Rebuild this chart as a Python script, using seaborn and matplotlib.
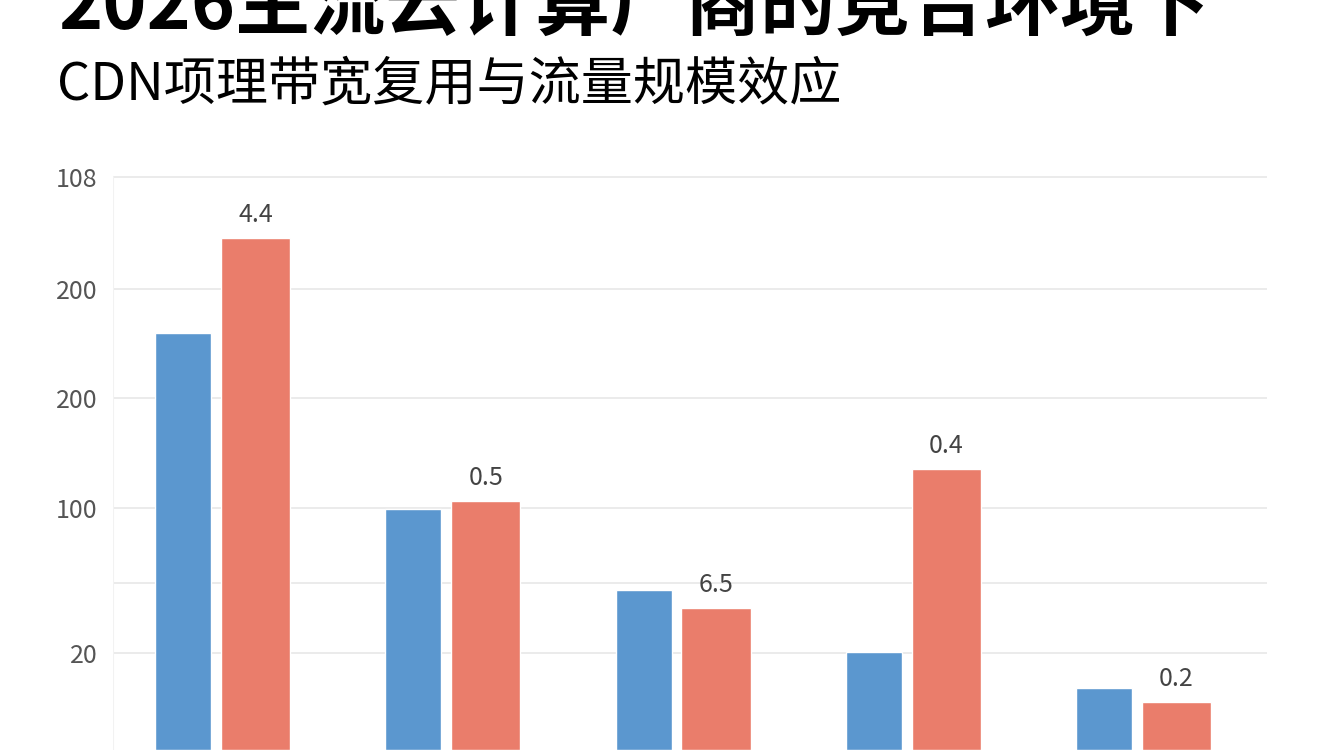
import matplotlib
matplotlib.use('Agg')
import matplotlib.pyplot as plt
import seaborn as sns
import pandas as pd

# Values (arbitrary units, 0 = bottom edge)
groups = ['G1', 'G2', 'G3', 'G4', 'G5']
series = ['基准', '复用']
blue_values = [417, 241, 160, 98, 62]
red_values = [512, 249, 142, 281, 48]
red_labels = ['4.4', '0.5', '6.5', '0.4', '0.2']

# Gridline positions and the tick text printed next to them
tick_values = [573, 461, 352, 242, 167, 97]
tick_labels = ['108', '200', '200', '100', '', '20']

title = '2026主流云计算厂商的竞合环境下'
subtitle = 'CDN项理带宽复用与流量规模效应'

df = pd.DataFrame({
    'group': groups * 2,
    'series': [series[0]] * len(groups) + [series[1]] * len(groups),
    'value': blue_values + red_values,
})

sns.set_theme(style='white')
plt.rcParams['font.family'] = ['Noto Sans CJK SC', 'DejaVu Sans']

fig = plt.figure(figsize=(13.44, 7.5), dpi=100)
ax = fig.add_axes([113 / 1344, 0, (1267 - 113) / 1344, 0.8])

sns.barplot(data=df, x='group', y='value', hue='series',
            palette=['#5B97CF', '#EA7D6B'], saturation=1, width=0.6, gap=0.05,
            legend=False, ax=ax, zorder=2)

# Red bars are a little wider than the blue ones in the reference
for i, bar in enumerate(ax.containers[0]):
    bar.set_x(i - 0.293)
    bar.set_width(0.243)
for i, bar in enumerate(ax.containers[1]):
    bar.set_x(i - 0.007)
    bar.set_width(0.300)

ax.bar_label(ax.containers[1], labels=red_labels, padding=7,
             fontsize=18, color='#444444')

ax.set_xlim(-0.476, 4.536)
ax.set_ylim(0, 600)
ax.set_yticks(tick_values)
ax.set_yticklabels(tick_labels, fontsize=18, color='#555555')
ax.tick_params(axis='y', length=0, pad=11)
ax.set_xticks([])
ax.set_xlabel('')
ax.set_ylabel('')
ax.grid(True, axis='y', color='#E8E8E8', linewidth=1.2, zorder=0)
sns.despine(ax=ax, left=True, bottom=True, top=True, right=True)
ax.axvline(-0.476, ymax=573 / 600, color='#F2F2F2', linewidth=1.5, zorder=1)

fig.text(58 / 1344, 1 - 7 / 750, title, fontsize=54, fontweight='black',
         color='black', va='center', ha='left')
fig.text(57 / 1344, 1 - 85 / 750, subtitle, fontsize=37.5,
         color='black', va='center', ha='left')

fig.savefig('out.png', dpi=100, facecolor='white')
